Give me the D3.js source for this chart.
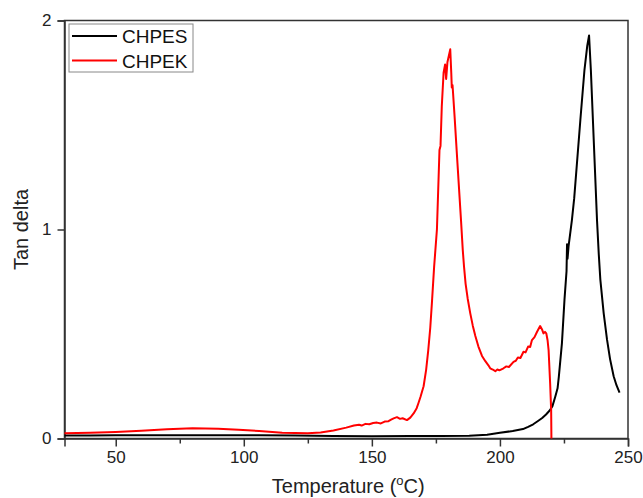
<!DOCTYPE html>
<html>
<head>
<meta charset="utf-8">
<script src="https://cdn.jsdelivr.net/npm/d3@7"></script>
<style>
  html, body { margin: 0; padding: 0; background: #fff; }
  svg { display: block; font-family: "Liberation Sans", Arial, sans-serif; }
</style>
</head>
<body>
<svg id="chart" width="643" height="498"></svg>
<script>
// Tan delta vs temperature (DMA) for two polymers
const seriesNames = ["CHPES", "CHPEK"];
const seriesColors = ["#000000", "#ff0000"];

// CHPES: [temperature °C, tan delta]
const chpes = [
  [30,0.014],[40,0.014],[50,0.015],[60,0.015],[75,0.016],[90,0.016],[106,0.016],
  [120,0.014],[135,0.012],[150,0.011],[165,0.012],[177,0.012],[188,0.013],[195,0.018],
  [200,0.027],[205,0.036],[209,0.045],[211,0.056],[213,0.068],[215,0.085],[216.5,0.098],
  [218,0.115],[219.5,0.135],[220.5,0.155],[221.6,0.2],[222.5,0.24],[223,0.296],
  [224.2,0.455],[225.2,0.663],[226.0,0.80],[226.2,0.93],[226.4,0.86],[226.8,0.92],
  [228.1,1.045],[229,1.15],[231.4,1.524],[233,1.763],[234.1,1.88],[234.8,1.928],
  [235.5,1.763],[236.3,1.524],[237.1,1.285],[237.9,1.045],[238.6,0.88],[239.2,0.76],
  [240.5,0.6],[241.8,0.474],[243,0.38],[244.4,0.298],[245.5,0.255],[246.7,0.219]
];

// CHPEK: [temperature °C, tan delta]
const chpek = [
  [30,0.025],[40,0.027],[50,0.031],[60,0.037],[70,0.044],[80,0.049],[90,0.047],
  [98,0.042],[106,0.036],[115,0.028],[125,0.025],[130,0.029],[135,0.038],[140,0.052],
  [143,0.062],[145,0.066],[146,0.062],[147.5,0.07],[149,0.068],[150.5,0.074],[152,0.076],
  [153.5,0.072],[155,0.081],[156.5,0.083],[157.5,0.09],[158.5,0.096],[159.8,0.102],
  [161,0.094],[162,0.097],[163.7,0.088],[165,0.1],[166.3,0.12],[167.5,0.145],[168.2,0.17],
  [169,0.2],[170.2,0.25],[171.2,0.33],[172,0.42],[172.8,0.53],[173.5,0.66],[174.3,0.82],
  [175.4,1.0],[176.4,1.38],[176.8,1.40],[177.3,1.59],[178,1.75],[178.6,1.79],[179,1.72],
  [179.5,1.80],[180.6,1.862],[181.0,1.75],[181.2,1.68],[181.5,1.69],[182.3,1.54],
  [183.4,1.32],[184.8,1.045],[185.5,0.9],[186,0.82],[186.6,0.74],[187.4,0.67],
  [188.4,0.60],[189.4,0.54],[190.4,0.49],[191.6,0.44],[193,0.395],[194.3,0.37],
  [195.5,0.35],[196.2,0.336],[197.2,0.33],[198.2,0.322],[199,0.33],[199.8,0.326],
  [201.4,0.336],[202.5,0.345],[203.5,0.342],[205.3,0.367],[206.2,0.372],[207,0.388],
  [208,0.385],[209.2,0.415],[210,0.412],[211,0.44],[211.8,0.438],[212.5,0.471],
  [213.5,0.485],[214.5,0.511],[215.7,0.538],[216.5,0.52],[217,0.503],[217.6,0.51],
  [218.1,0.503],[218.6,0.47],[219,0.423],[219.6,0.264],[220,0.136],[220.1,0]
];

const xTicksMajor = [50, 100, 150, 200, 250];
const xTicksMinor = [75, 125, 175, 225];
const yTicks = [0, 1, 2];

const svg = d3.select("#chart");
const margin = { left: 64.5, right: 15, top: 20.5, bottom: 59.5 };
const W = 643, H = 498;

const x = d3.scaleLinear().domain([30, 250]).range([margin.left, W - margin.right]);
const y = d3.scaleLinear().domain([0, 2]).range([H - margin.bottom, margin.top]);

const axisColor = "#333";

// frame (top and right borders)
svg.append("rect")
  .attr("x", x(30)).attr("y", y(2))
  .attr("width", x(250) - x(30)).attr("height", y(0) - y(2))
  .attr("fill", "none").attr("stroke", axisColor).attr("stroke-width", 1.5);

// bottom axis: major ticks with labels, minor ticks without
svg.append("g").attr("transform", `translate(0,${y(0)})`)
  .call(d3.axisBottom(x).tickValues(xTicksMajor).tickSize(8).tickPadding(4).tickFormat(d3.format("d")));
svg.append("g").attr("transform", `translate(0,${y(0)})`)
  .call(d3.axisBottom(x).tickValues(xTicksMinor).tickSize(5).tickFormat(""))
  .call(g => g.select(".domain").remove());

// left axis
svg.append("g").attr("transform", `translate(${x(30)},0)`)
  .call(d3.axisLeft(y).tickValues(yTicks).tickSize(7).tickPadding(6).tickFormat(d3.format("d")));

svg.selectAll(".tick line").attr("stroke", axisColor).attr("stroke-width", 1.5);
svg.selectAll(".domain").attr("stroke", axisColor).attr("stroke-width", 1.5);
svg.selectAll(".tick text").attr("font-size", 17).attr("fill", "#222")
  .attr("font-family", "'Liberation Sans', Arial, sans-serif");

// curves
const line = d3.line().x(d => x(d[0])).y(d => y(d[1]));
[chpes, chpek].forEach((data, i) => {
  svg.append("path").datum(data)
    .attr("d", line)
    .attr("fill", "none")
    .attr("stroke", seriesColors[i])
    .attr("stroke-width", 2)
    .attr("stroke-linejoin", "round");
});

// axis titles
const xt = svg.append("text")
  .attr("x", (x(30) + x(250)) / 2 + 2).attr("y", 493)
  .attr("text-anchor", "middle").attr("font-size", 20).attr("fill", "#222");
xt.append("tspan").text("Temperature (");
xt.append("tspan").attr("font-size", 13).attr("dy", -8).text("o");
xt.append("tspan").attr("dy", 8).text("C)");

svg.append("text")
  .attr("transform", `translate(28,${(y(0) + y(2)) / 2}) rotate(-90)`)
  .attr("text-anchor", "middle").attr("font-size", 20).attr("fill", "#222")
  .text("Tan delta");

// legend
const lg = svg.append("g").attr("transform", "translate(69,24)");
lg.append("rect").attr("width", 124).attr("height", 48)
  .attr("fill", "#fff").attr("stroke", "#888").attr("stroke-width", 1);
seriesNames.forEach((name, i) => {
  const cy = 12 + i * 24.5;
  lg.append("line").attr("x1", 3).attr("x2", 48).attr("y1", cy).attr("y2", cy)
    .attr("stroke", seriesColors[i]).attr("stroke-width", 2);
  lg.append("text").attr("x", 53).attr("y", cy + 7)
    .attr("font-size", 19).attr("fill", "#111").text(name);
});
</script>
</body>
</html>
